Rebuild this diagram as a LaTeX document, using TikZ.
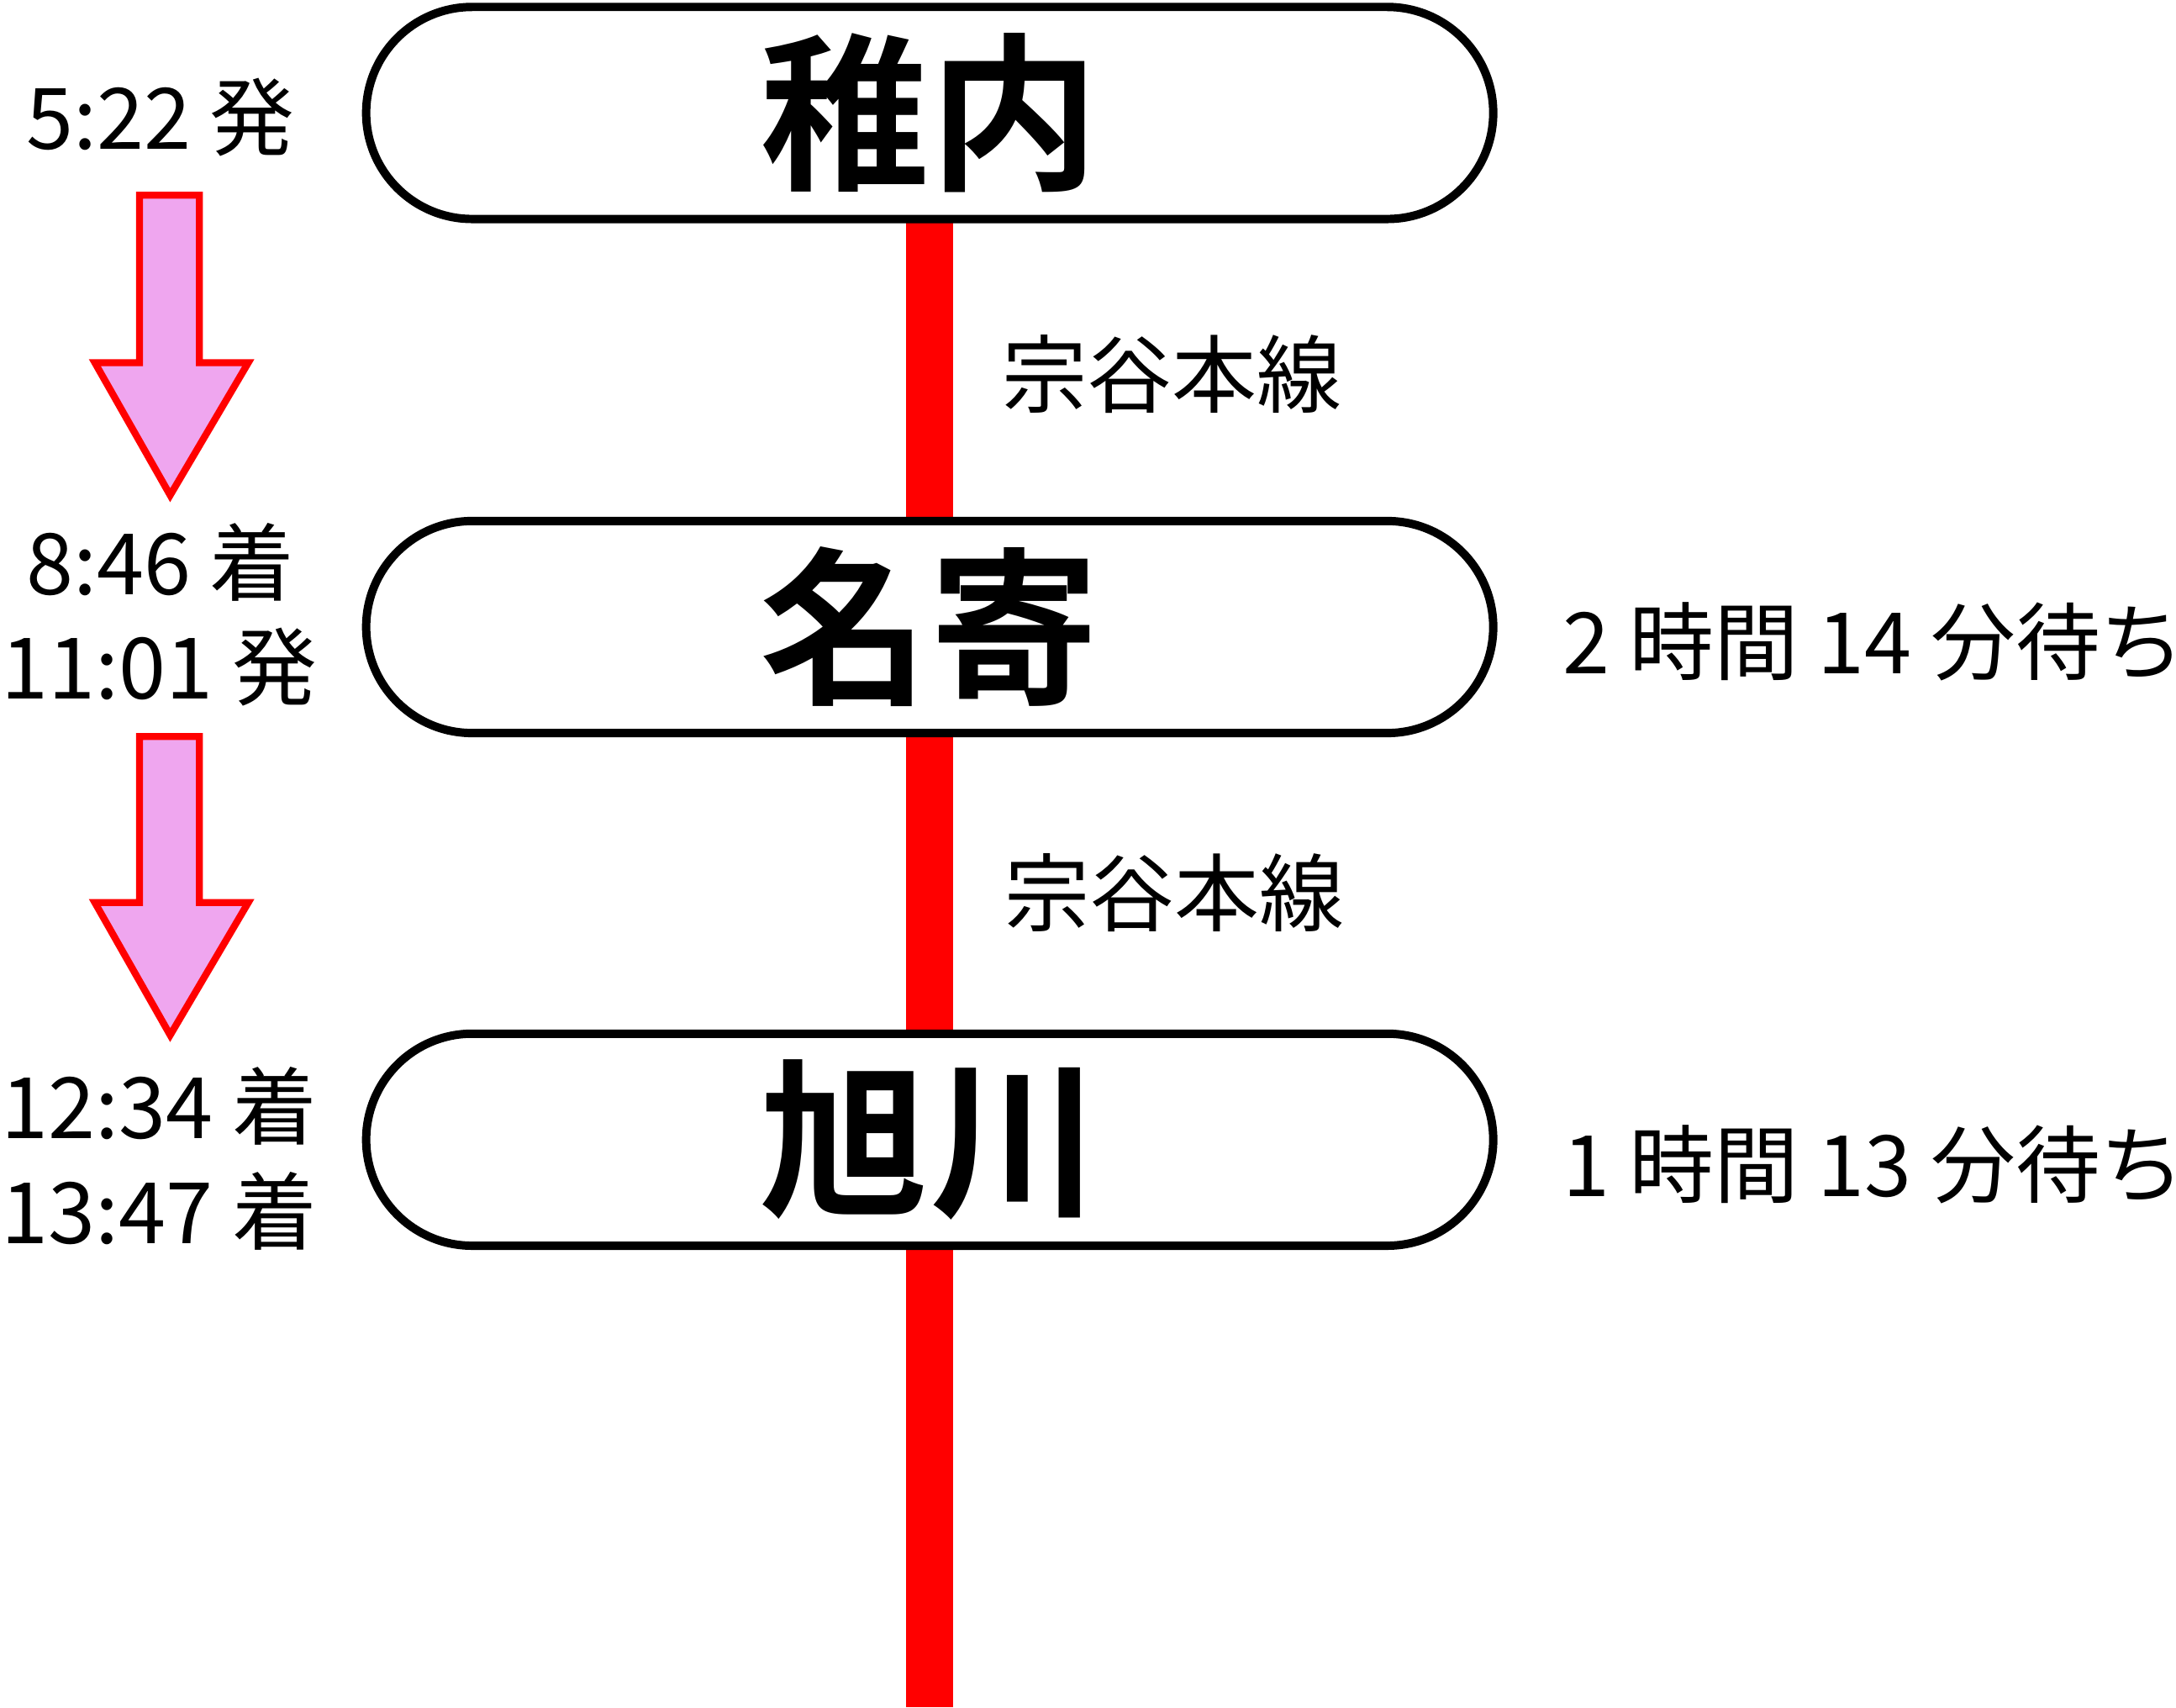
\documentclass[tikz,border=0pt]{standalone}
\usepackage{fontspec}
\setmainfont{Noto Sans CJK JP}[BoldFont={* Bold}]
\usetikzlibrary{positioning}

\tikzset{
    station/.style={draw, line width=0.06cm, fill=white, rounded corners=0.76cm,
        minimum width=8.08cm, minimum height=1.52cm, font=\bfseries\fontsize{34.5}{34.5}\selectfont},
    rail/.style={red, line width=0.34cm},
    linename/.style={font=\fontsize{17.3}{17.3}\selectfont, anchor=west},
    timelabel/.style={font=\fontsize{17.3}{17.3}\selectfont},
    waitlabel/.style={font=\fontsize{17.3}{17.3}\selectfont, anchor=west},
    trip/.style={draw=red, line width=0.05cm, fill=violet!35!magenta!35},
}

\begin{document}
\begin{tikzpicture}
    \useasboundingbox (0,0) rectangle (15.6,12.24);
    \coordinate (start) at (6.665,11.43);
    \coordinate (end) at (6.665,0);
    \draw[rail] (start) -- (end);
    \node[station] (wakkanai) at (6.665,11.43) {稚内};
    \node[station] (nayoro) at (6.665,7.745) {名寄};
    \node[station] (asahikawa) at (6.665,4.07) {旭川};

    \node[linename] (line1) at (7.06,9.56) {宗谷本線};
    \node[linename] (line2) at (7.08,5.84) {宗谷本線};

    \node[timelabel] (dep1) at (1.15,11.40) {5:22 発};
    \node[timelabel] (arr2) at (1.15,8.21) {8:46 着};
    \node[timelabel] (dep2) at (1.14,7.46) {11:01 発};
    \node[timelabel] (arr3) at (1.14,4.31) {12:34 着};
    \node[timelabel] (arr4) at (1.14,3.56) {13:47 着};

    \node[waitlabel] (wait1) at (11.08,7.64) {2 時間 14 分待ち};
    \node[waitlabel] (wait2) at (11.08,3.89) {1 時間 13 分待ち};

    % arrows between times
    \foreach \top/\tip in {10.84/8.69, 6.96/4.82} {
        \draw[trip] (1.0,\top) -- (1.43,\top) -- (1.43,\tip+0.95) -- (1.78,\tip+0.95)
            -- (1.22,\tip) -- (0.68,\tip+0.95) -- (1.0,\tip+0.95) -- cycle;
    }
\end{tikzpicture}
\end{document}
